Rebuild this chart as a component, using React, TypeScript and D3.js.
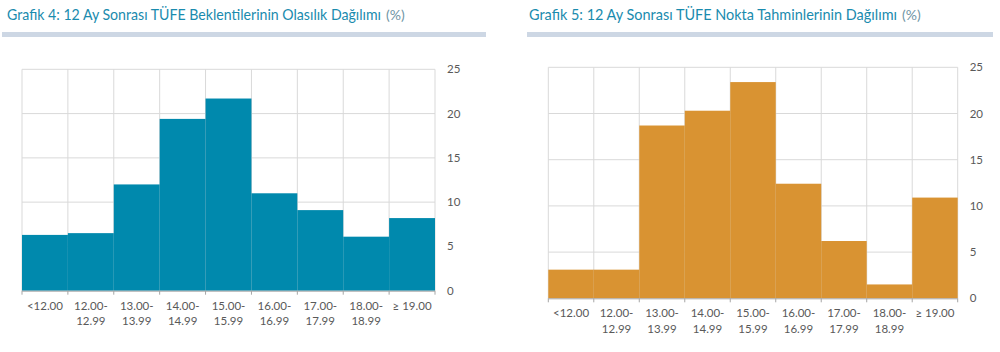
import * as d3 from "d3";

// category labels (line breaks as in the original)
const categories = [
  "<12.00",
  "12.00-\n12.99",
  "13.00-\n13.99",
  "14.00-\n14.99",
  "15.00-\n15.99",
  "16.00-\n16.99",
  "17.00-\n17.99",
  "18.00-\n18.99",
  "≥ 19.00",
];

// Grafik 4: probability distribution of expectations (%)
const probabilityValues = [6.3, 6.5, 12.0, 19.4, 21.7, 11.0, 9.1, 6.1, 8.2];
// Grafik 5: distribution of point estimates (%)
const pointValues = [3.1, 3.1, 18.7, 20.3, 23.4, 12.4, 6.2, 1.5, 10.9];

const yTicks = [0, 5, 10, 15, 20, 25];

const title4 = "Grafik 4: 12 Ay Sonrası TÜFE Beklentilerinin Olasılık Dağılımı";
const title5 = "Grafik 5: 12 Ay Sonrası TÜFE Nokta Tahminlerinin Dağılımı";

const FONT = "Lato, 'Open Sans', sans-serif";
const GRID = "#d9d9d9";
const TEXT = "#595959";

type PanelProps = {
  title: string;
  values: number[];
  color: string;
  titleX: number;
  titleW: number;
  sepX: [number, number];
  plotX: [number, number];
  plotY: [number, number]; // [y at 0, y at 25]
};

const Panel = ({ title, values, color, titleX, titleW, sepX, plotX, plotY }: PanelProps) => {
  const x = d3.scaleBand<string>().domain(categories).range(plotX).padding(0);
  const y = d3.scaleLinear().domain([0, 25]).range(plotY);
  const bounds = categories.map((c) => x(c)!).concat([plotX[1]]);
  const labelX = plotX[1] + 12;

  return (
    <g>
      <text
        x={titleX}
        y={20}
        fontFamily={FONT}
        fontSize={14.4}
        fill="#1a8bae"
        textLength={titleW}
        lengthAdjust="spacingAndGlyphs"
      >
        {title}
      </text>
      <text x={titleX + titleW + 5} y={20} fontFamily={FONT} fontSize={14} fill="#6f95a5">
        (%)
      </text>
      <rect x={sepX[0]} y={32} width={sepX[1] - sepX[0]} height={5} fill="#cdd7e4" />

      {/* grid */}
      {yTicks.slice(1).map((t) => (
        <line key={"h" + t} x1={plotX[0]} x2={plotX[1]} y1={y(t)} y2={y(t)} stroke={GRID} strokeWidth={1} />
      ))}
      {bounds.map((b, i) => (
        <line key={"v" + i} x1={b} x2={b} y1={y(25)} y2={y(0)} stroke={GRID} strokeWidth={1} />
      ))}

      {/* bars */}
      {values.map((v, i) => (
        <rect
          key={i}
          x={x(categories[i])}
          y={y(v)}
          width={x.bandwidth()}
          height={y(0) - y(v)}
          fill={color}
        />
      ))}

      {/* x axis */}
      <line x1={plotX[0]} x2={plotX[1]} y1={y(0) + 0.5} y2={y(0) + 0.5} stroke="#a6a6a6" strokeWidth={1} />
      {bounds.map((b, i) => (
        <line key={"t" + i} x1={b} x2={b} y1={y(0)} y2={y(0) + 4} stroke="#a6a6a6" strokeWidth={1} />
      ))}
      {categories.map((c) => (
        <text
          key={c}
          x={x(c)! + x.bandwidth() / 2}
          y={y(0) + 19}
          textAnchor="middle"
          fontFamily={FONT}
          fontSize={11.5}
          fill={TEXT}
        >
          {c.split("\n").map((line, j) => (
            <tspan key={j} x={x(c)! + x.bandwidth() / 2} dy={j === 0 ? 0 : 15.5}>
              {line}
            </tspan>
          ))}
        </text>
      ))}

      {/* y axis labels */}
      {yTicks.map((t) => (
        <text key={"y" + t} x={labelX} y={y(t)} dy="0.35em" fontFamily={FONT} fontSize={11.5} fill={TEXT}>
          {t}
        </text>
      ))}
    </g>
  );
};

export default function App() {
  return (
    <svg
      width={1000}
      height={352}
      style={{ position: "absolute", top: 0, left: 0, background: "#fff" }}
    >
      <Panel
        title={title4}
        values={probabilityValues}
        color="#0089ad"
        titleX={7}
        titleW={374}
        sepX={[2, 486]}
        plotX={[22, 435]}
        plotY={[290.7, 69.3]}
      />
      <Panel
        title={title5}
        values={pointValues}
        color="#d99332"
        titleX={529}
        titleW={368}
        sepX={[527, 993]}
        plotX={[548.3, 957.7]}
        plotY={[298.3, 67.3]}
      />
    </svg>
  );
}
